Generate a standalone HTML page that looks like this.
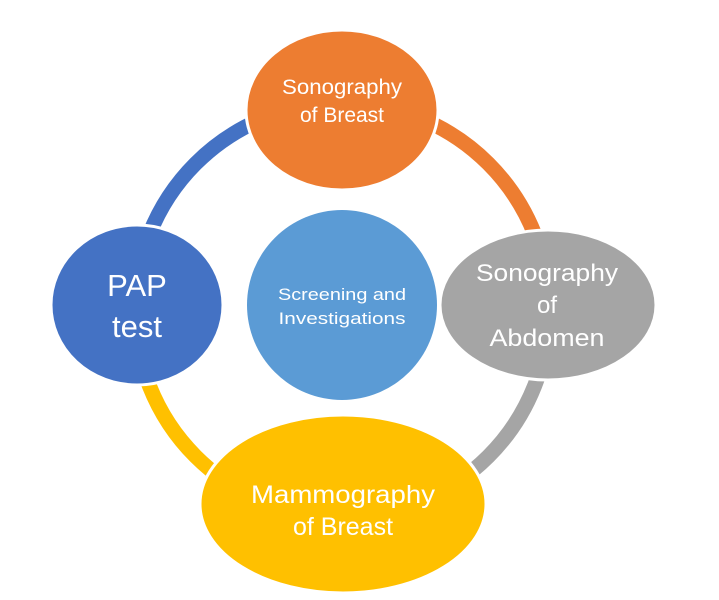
<!DOCTYPE html>
<html><head><style>body{margin:0;background:#fff}svg{display:block}text{font-family:"Liberation Sans",sans-serif;fill:#fff;text-anchor:middle}</style></head><body>
<svg width="719" height="600" viewBox="0 0 719 600">
<g fill="none" stroke-width="15">
<path d="M135 310 A207 207 0 0 1 342 103" stroke="#4472C4"/>
<path d="M342 103 A207 207 0 0 1 549 310" stroke="#ED7D31"/>
<path d="M549 310 A207 207 0 0 1 342 517" stroke="#A5A5A5"/>
<path d="M342 517 A207 207 0 0 1 135 310" stroke="#FFC000"/>
</g>
<g stroke="#fff" stroke-width="3">
<ellipse cx="342" cy="110" rx="96" ry="80" fill="#ED7D31"/>
<ellipse cx="548" cy="305" rx="108" ry="75" fill="#A5A5A5"/>
<ellipse cx="343" cy="504" rx="143" ry="89" fill="#FFC000"/>
<ellipse cx="137" cy="305" rx="86" ry="80" fill="#4472C4"/>
<circle cx="342" cy="305" r="95" fill="#5B9BD5" stroke="none"/>
</g>
<text x="342" y="94" font-size="21" textLength="120" lengthAdjust="spacingAndGlyphs">Sonography</text>
<text x="342" y="122" font-size="21">of Breast</text>
<text x="547" y="281" font-size="24" textLength="142" lengthAdjust="spacingAndGlyphs">Sonography</text>
<text x="547" y="313" font-size="24">of</text>
<text x="547" y="346" font-size="24" textLength="115" lengthAdjust="spacingAndGlyphs">Abdomen</text>
<text x="137" y="296" font-size="31">PAP</text>
<text x="137" y="337" font-size="31">test</text>
<text x="343" y="503" font-size="25" textLength="184" lengthAdjust="spacingAndGlyphs">Mammography</text>
<text x="343" y="535" font-size="25">of Breast</text>
<text x="342" y="300" font-size="17" textLength="128" lengthAdjust="spacingAndGlyphs">Screening and</text>
<text x="342" y="324" font-size="17" textLength="127" lengthAdjust="spacingAndGlyphs">Investigations</text>
</svg>
</body></html>
